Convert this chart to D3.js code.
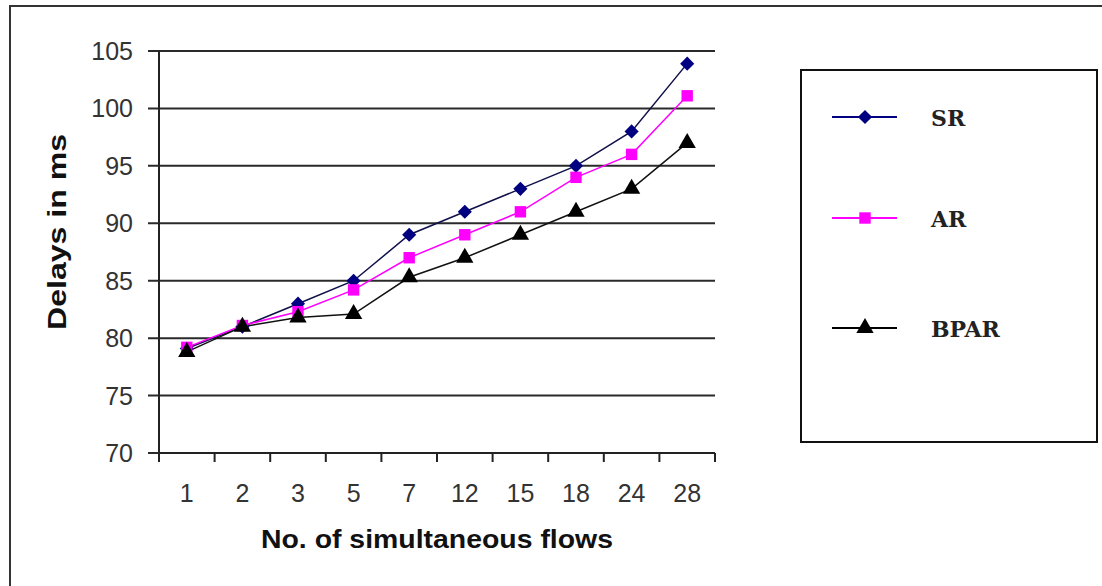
<!DOCTYPE html>
<html>
<head>
<meta charset="utf-8">
<script src="https://cdn.jsdelivr.net/npm/d3@7"></script>
<style>
  body { margin: 0; background: #fff; }
  svg { display: block; }
</style>
</head>
<body>
<svg id="chart"></svg>
<script>
// Data
const flows = ["1", "2", "3", "5", "7", "12", "15", "18", "24", "28"];
const srDelay = [79.1, 81, 83, 85, 89, 91, 93, 95, 98, 103.9];
const arDelay = [79.2, 81.1, 82.3, 84.2, 87, 89, 91, 94, 96, 101.1];
const bparDelay = [78.8, 81, 81.8, 82.1, 85.3, 87, 89, 91, 93, 97];
const yTicks = [70, 75, 80, 85, 90, 95, 100, 105];
const seriesNames = ["SR", "AR", "BPAR"];

const W = 1102, H = 586;
const margin = { top: 51, left: 159 },
  width = 715 - 159,
  height = 453 - 51;

const svg = d3.select("#chart")
  .attr("width", W)
  .attr("height", H);

// Outer frame
svg.append("rect")
  .attr("x", 10).attr("y", 6)
  .attr("width", 1110).attr("height", 620)
  .attr("fill", "none")
  .attr("stroke", "#333")
  .attr("stroke-width", 2);

const g = svg.append("g")
  .attr("transform", `translate(${margin.left},${margin.top})`);

// Scales
const x = d3.scaleBand()
  .domain(flows)
  .range([0, width]);

const y = d3.scaleLinear()
  .domain([70, 105])
  .range([height, 0]);

// Gridlines (with outward tick)
g.append("g")
  .selectAll("line")
  .data(yTicks)
  .enter()
  .append("line")
  .attr("x1", -11)
  .attr("x2", width)
  .attr("y1", d => y(d))
  .attr("y2", d => y(d))
  .attr("stroke", "#2a2a2a")
  .attr("stroke-width", 2);

// Y tick labels
g.append("g")
  .selectAll("text")
  .data(yTicks)
  .enter()
  .append("text")
  .attr("x", -26)
  .attr("y", d => y(d))
  .attr("text-anchor", "end")
  .attr("dominant-baseline", "central")
  .attr("font-family", "Liberation Sans, Arial, sans-serif")
  .attr("font-size", "25px")
  .attr("fill", "#333")
  .text(d => d);

// Y axis line
g.append("line")
  .attr("x1", 0).attr("x2", 0)
  .attr("y1", 0).attr("y2", height)
  .attr("stroke", "#222")
  .attr("stroke-width", 2);

// X axis with ticks at category boundaries
const xAxis = g.append("g")
  .attr("transform", `translate(0,${height})`);

xAxis.append("line")
  .attr("x1", 0).attr("x2", width)
  .attr("stroke", "#222")
  .attr("stroke-width", 2);

const bounds = flows.map(d => x(d)).concat([width]);
xAxis.selectAll(".tick")
  .data(bounds)
  .enter()
  .append("line")
  .attr("class", "tick")
  .attr("x1", d => d).attr("x2", d => d)
  .attr("y1", 0).attr("y2", 9)
  .attr("stroke", "#222")
  .attr("stroke-width", 2);

xAxis.selectAll(".xlabel")
  .data(flows)
  .enter()
  .append("text")
  .attr("class", "xlabel")
  .attr("x", d => x(d) + x.bandwidth() / 2)
  .attr("y", 49)
  .attr("text-anchor", "middle")
  .attr("font-family", "Liberation Sans, Arial, sans-serif")
  .attr("font-size", "25px")
  .attr("fill", "#333")
  .text(d => d);

// Axis titles
svg.append("text")
  .attr("x", 437)
  .attr("y", 548)
  .attr("text-anchor", "middle")
  .attr("font-family", "Liberation Sans, Arial, sans-serif")
  .attr("font-weight", "bold")
  .attr("font-size", "25px")
  .attr("fill", "#111")
  .attr("textLength", 352)
  .attr("lengthAdjust", "spacingAndGlyphs")
  .text("No. of simultaneous flows");

svg.append("text")
  .attr("transform", "translate(66,232) rotate(-90)")
  .attr("text-anchor", "middle")
  .attr("font-family", "Liberation Sans, Arial, sans-serif")
  .attr("font-weight", "bold")
  .attr("font-size", "25px")
  .attr("fill", "#111")
  .attr("textLength", 196)
  .attr("lengthAdjust", "spacingAndGlyphs")
  .text("Delays in ms");

// Series
const series = [
  { name: seriesNames[0], values: srDelay, color: "#000080", lineColor: "#10104a", symbol: d3.symbolSquare, size: 100, rot: 45 },
  { name: seriesNames[1], values: arDelay, color: "#ff00ff", lineColor: "#ff00ff", symbol: d3.symbolSquare, size: 130, rot: 0 },
  { name: seriesNames[2], values: bparDelay, color: "#000000", lineColor: "#111", symbol: d3.symbolTriangle, size: 130, rot: 0 }
];

const line = d3.line()
  .x((d, i) => x(flows[i]) + x.bandwidth() / 2)
  .y(d => y(d));

series.forEach(s => {
  g.append("path")
    .datum(s.values)
    .attr("fill", "none")
    .attr("stroke", s.lineColor)
    .attr("stroke-width", 1.5)
    .attr("d", line);
});

series.forEach(s => {
  g.selectAll(null)
    .data(s.values)
    .enter()
    .append("path")
    .attr("transform", (d, i) => `translate(${x(flows[i]) + x.bandwidth() / 2},${y(d)}) rotate(${s.rot})`)
    .attr("d", d3.symbol().type(s.symbol).size(s.size))
    .attr("fill", s.color);
});

// Legend
const legend = svg.append("g");

legend.append("rect")
  .attr("x", 801).attr("y", 70)
  .attr("width", 296).attr("height", 372)
  .attr("fill", "#fff")
  .attr("stroke", "#111")
  .attr("stroke-width", 2);

const legendY = [117, 218, 328];

series.forEach((s, i) => {
  const row = legend.append("g")
    .attr("transform", `translate(0,${legendY[i]})`);
  row.append("line")
    .attr("x1", 832).attr("x2", 897)
    .attr("stroke", s.color)
    .attr("stroke-width", 2);
  row.append("path")
    .attr("transform", `translate(865,0) rotate(${s.rot})`)
    .attr("d", d3.symbol().type(s.symbol).size(s.size))
    .attr("fill", s.color);
  row.append("text")
    .attr("x", 931)
    .attr("y", 1)
    .attr("dominant-baseline", "central")
    .attr("font-family", "DejaVu Serif, serif")
    .attr("font-weight", "bold")
    .attr("font-size", "22px")
    .attr("fill", "#222")
    .text(s.name);
});
</script>
</body>
</html>
